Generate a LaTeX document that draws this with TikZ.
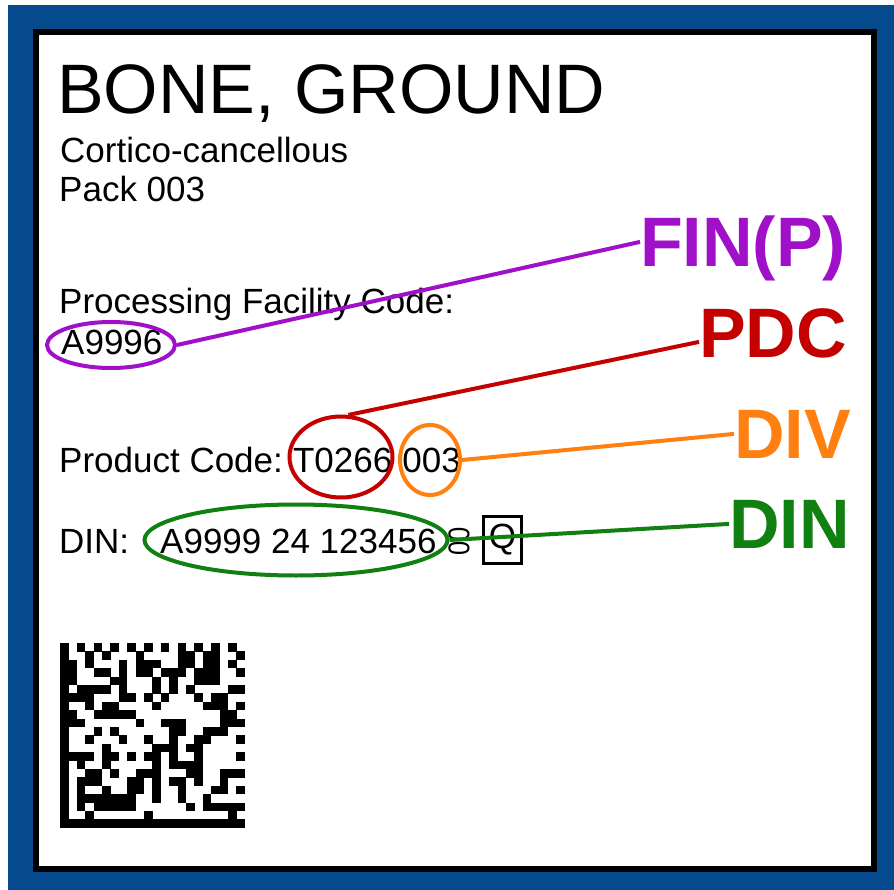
\documentclass[tikz,border=0pt]{standalone}
\usepackage{fontspec}
\setmainfont{Liberation Sans}
\usetikzlibrary{shapes.geometric,calc}
\definecolor{frameblue}{RGB}{4,74,140}
\definecolor{finpc}{RGB}{160,16,200}
\definecolor{pdcc}{RGB}{196,0,0}
\definecolor{divc}{RGB}{255,128,16}
\definecolor{dinc}{RGB}{16,128,16}
\newcount\dmcol
\def\dmrow{0}
\def\dmparse#1{\ifx#1\relax\else\ifnum#1=1 \fill[black] (60+8.4*\the\dmcol,643+8.4*\dmrow) rectangle ++(8.55,8.55);\fi\advance\dmcol by 1 \expandafter\dmparse\fi}
\newcommand\dmline[2]{\def\dmrow{#1}\dmcol=0 \dmparse#2\relax}
\begin{document}
\begin{tikzpicture}[x=1pt,y=-1pt,
  txt/.style={anchor=base west,inner sep=0pt,font=\fontsize{35}{40}\selectfont},
  tag/.style={anchor=base west,inner sep=0pt,font=\fontsize{70}{80}\selectfont\bfseries},
  ring/.style={ellipse,draw,line width=4pt,inner sep=0pt},
  lead/.style={line width=4pt}]
\useasboundingbox (0,0) rectangle (894,890);
\fill[white] (0,0) rectangle (894,890);
\fill[frameblue] (8,5) rectangle (894,890);
\draw[line width=6pt,fill=white] (36,32) rectangle (874,869);
% texts
\node[anchor=base west,inner sep=0pt,font=\fontsize{70}{80}\selectfont] (title) at (57,114) {BONE, GROUND};
\node[txt] (sub) at (60,163) {Cortico-cancellous};
\node[txt] (pack) at (59,202) {Pack 003};
\node[txt] (pfc) at (59,314) {Processing Facility Code:};
\node[txt] (a9996) at (61,355) {A9996};
\node[txt] (pc) at (59,472) {Product Code:};
\node[txt] (t0266) at ([xshift=9.7pt]pc.base east) {T0266};
\node[txt] (d003) at ([xshift=9.7pt]t0266.base east) {003};
\node[txt] (din) at (59,553) {DIN:};
\node[txt] (dinnum) at (160,553) {A9999 24 123456};
\node[inner sep=0pt,rotate=90,xscale=0.85,font=\fontsize{30}{34}\selectfont] (flag) at (459,541) {00};
\node[draw,line width=3pt,minimum width=38pt,minimum height=47pt,inner sep=0pt,font=\fontsize{35}{40}\selectfont] (qbox) at (502.5,540) {Q};
% labels
\node[tag,text=finpc] (finp) at (640,267) {FIN(P)};
\node[tag,text=pdcc] (pdc) at (699,358) {PDC};
\node[tag,text=divc] (div) at (734,458) {DIV};
\node[tag,text=dinc] (dinlab) at (729,548) {DIN};
% rings
\node[ring,draw=finpc,minimum width=128pt,minimum height=46pt] (eA) at (111,345) {};
\node[ring,draw=pdcc,minimum width=103pt,minimum height=81pt] (eT) at (341,457) {};
\node[ring,draw=divc,minimum width=60pt,minimum height=70pt] (eV) at (430,460) {};
\node[ring,draw=dinc,minimum width=303pt,minimum height=71pt] (eD) at (296,540) {};
% leaders
\draw[lead,finpc] (eA.east) -- ([yshift=7pt]finp.west);
\draw[lead,pdcc] (eT.80) -- ([yshift=-8pt]pdc.west);
\draw[lead,divc] (eV.east) -- (div.west);
\draw[lead,dinc] (eD.east) -- (dinlab.west);
% data matrix
\dmline{0}{1010101010101010101010}
\dmline{1}{1001010001000011011001}
\dmline{2}{1101000101110011011010}
\dmline{3}{1100110101101110111001}
\dmline{4}{1100001100010100111000}
\dmline{5}{1011110100010101000011}
\dmline{6}{1111000110101000101100}
\dmline{7}{1001011000010000011101}
\dmline{8}{1100111110000000000110}
\dmline{9}{1110000001001110000111}
\dmline{10}{1000101000000110011100}
\dmline{11}{1001000100100100110001}
\dmline{12}{1000010000011101100000}
\dmline{13}{1111011010110100100001}
\dmline{14}{1010010000010111100000}
\dmline{15}{1001101001110001100111}
\dmline{16}{1011100011010110100100}
\dmline{17}{1010010011010010001101}
\dmline{18}{1011111110010010010000}
\dmline{19}{1010111110000001011111}
\dmline{20}{1001000000100000000010}
\dmline{21}{1111111111111111111111}
\end{tikzpicture}
\end{document}
